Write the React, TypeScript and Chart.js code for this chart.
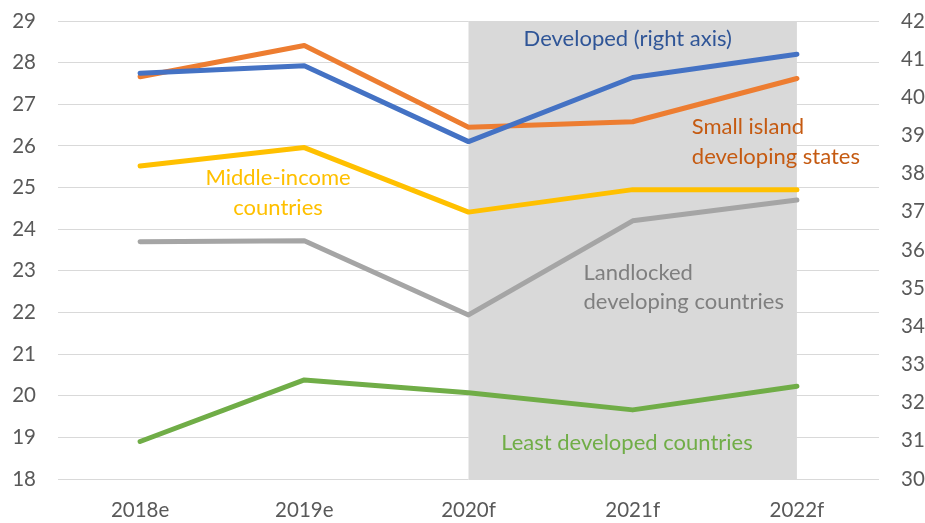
import React, { useEffect, useRef } from 'react';
import { Chart, registerables } from 'chart.js';

Chart.register(...registerables);

const categories = ['2018e', '2019e', '2020f', '2021f', '2022f'];
const developed = [40.63, 40.83, 38.84, 40.52, 41.13];
const smallIsland = [27.66, 28.41, 26.45, 26.58, 27.62];
const middleIncome = [25.52, 25.96, 24.41, 24.95, 24.95];
const landlocked = [23.7, 23.72, 21.94, 24.2, 24.7];
const leastDeveloped = [18.9, 20.38, 20.07, 19.66, 20.23];
const leftAxisRange = [18, 29];
const rightAxisRange = [30, 42];
const shadedCategories = ['2020f', '2022f'];

const FONT = 'Lato, "Open Sans", sans-serif';
const TICK_COLOR = '#595959';

// Annotation labels placed in data coordinates (category index, left-axis value)
const labels = [
  { lines: ['Developed (right axis)'], color: '#2F5597', x: 2.97, y: 28.57, align: 'center' },
  { lines: ['Small island', 'developing states'], color: '#C55A11', x: 3.36, y: 26.45, align: 'left' },
  { lines: ['Middle-income', 'countries'], color: '#FFC000', x: 0.84, y: 25.23, align: 'center' },
  { lines: ['Landlocked', 'developing countries'], color: '#7F7F7F', x: 2.7, y: 22.95, align: 'left' },
  { lines: ['Least developed countries'], color: '#70AD47', x: 2.965, y: 18.86, align: 'center' },
];

const shadePlugin = {
  id: 'shade',
  beforeDatasetsDraw(chart: any) {
    const { ctx, chartArea, scales } = chart;
    const x = scales.x;
    const x0 = x.getPixelForValue(categories.indexOf(shadedCategories[0]));
    const x1 = x.getPixelForValue(categories.indexOf(shadedCategories[1]));
    ctx.save();
    ctx.fillStyle = '#D9D9D9';
    ctx.fillRect(x0, chartArea.top, x1 - x0, chartArea.bottom - chartArea.top);
    ctx.restore();
  },
};

const labelPlugin = {
  id: 'labels',
  afterDatasetsDraw(chart: any) {
    const { ctx, scales } = chart;
    const lineH = 29.5;
    ctx.save();
    ctx.font = `22px ${FONT}`;
    ctx.textBaseline = 'middle';
    labels.forEach((l) => {
      const px = scales.x.getPixelForValue(l.x);
      const py = scales.y.getPixelForValue(l.y);
      ctx.fillStyle = l.color;
      ctx.textAlign = l.align;
      l.lines.forEach((t, i) => ctx.fillText(t, px, py + i * lineH));
    });
    ctx.restore();
  },
};

export default function App() {
  const ref = useRef<HTMLCanvasElement>(null);
  useEffect(() => {
    document.body.style.margin = '0';
    const ds = (label: string, data: number[], color: string, axis: string) => ({
      label,
      data,
      borderColor: color,
      backgroundColor: color,
      borderWidth: 5,
      pointRadius: 0,
      tension: 0,
      borderCapStyle: 'round',
      borderJoinStyle: 'round',
      yAxisID: axis,
    });
    const tickFont = { family: FONT, size: 20.5 };
    const chart = new Chart(ref.current!, {
      type: 'line',
      data: {
        labels: categories,
        datasets: [
          ds('Developed (right axis)', developed, '#4472C4', 'y1'),
          ds('Small island developing states', smallIsland, '#ED7D31', 'y'),
          ds('Middle-income countries', middleIncome, '#FFC000', 'y'),
          ds('Landlocked developing countries', landlocked, '#A5A5A5', 'y'),
          ds('Least developed countries', leastDeveloped, '#70AD47', 'y'),
        ] as any,
      },
      options: {
        animation: false,
        responsive: true,
        maintainAspectRatio: false,
        layout: { padding: { top: 21, left: 0, right: 0, bottom: 0 } },
        plugins: { legend: { display: false }, tooltip: { enabled: false } },
        scales: {
          x: {
            offset: true,
            grid: { display: false, drawTicks: false },
            border: { display: false },
            ticks: { color: TICK_COLOR, font: tickFont, padding: 19 },
            afterFit: (s: any) => { s.height = 44; s.paddingLeft = 0; s.paddingRight = 0; },
          },
          y: {
            position: 'left',
            min: leftAxisRange[0],
            max: leftAxisRange[1],
            ticks: { stepSize: 1, color: TICK_COLOR, font: tickFont, padding: 22 },
            grid: { color: '#D9D9D9', lineWidth: 1, drawTicks: false },
            border: { display: false },
            afterFit: (s: any) => { s.width = 58; s.paddingTop = 0; s.paddingBottom = 0; },
          },
          y1: {
            position: 'right',
            min: rightAxisRange[0],
            max: rightAxisRange[1],
            ticks: { stepSize: 1, color: TICK_COLOR, font: tickFont, padding: 22 },
            grid: { display: false, drawTicks: false },
            border: { display: false },
            afterFit: (s: any) => { s.width = 46; s.paddingTop = 0; s.paddingBottom = 0; },
          },
        },
      },
      plugins: [shadePlugin, labelPlugin],
    });
    return () => chart.destroy();
  }, []);
  return (
    <div style={{ width: 925, height: 523, position: 'relative' }}>
      <canvas ref={ref} />
    </div>
  );
}
